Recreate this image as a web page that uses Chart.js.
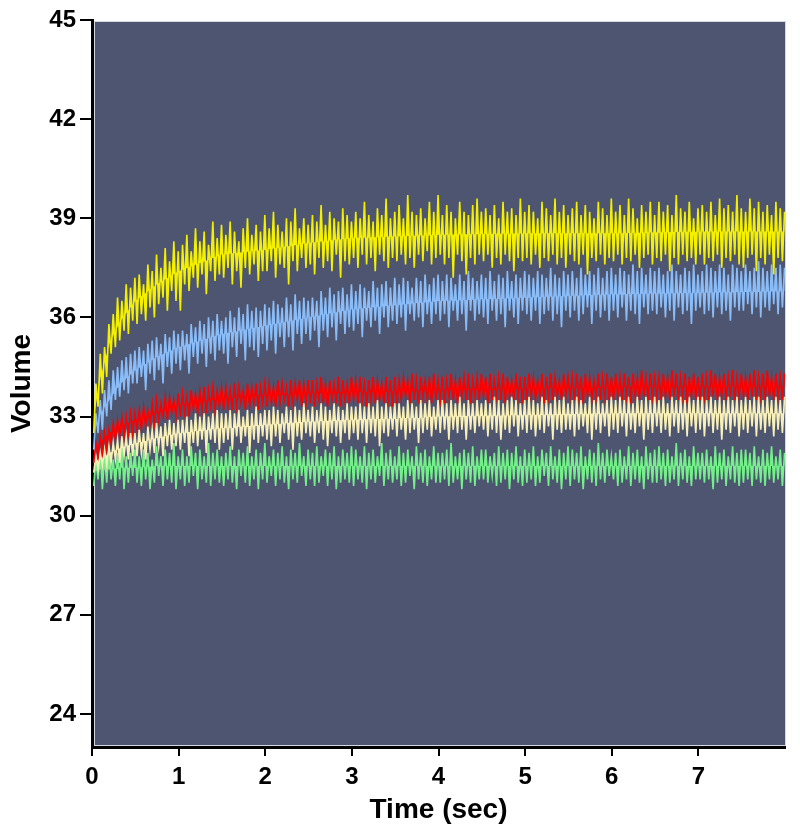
<!DOCTYPE html>
<html>
<head>
<meta charset="utf-8">
<script src="https://cdn.jsdelivr.net/npm/chart.js@4.4.1/dist/chart.umd.min.js"></script>
<style>
  html, body { margin: 0; padding: 0; background: #fff; }
  #wrap { width: 800px; height: 835px; }
</style>
</head>
<body>
<div id="wrap"><canvas id="volChart" width="800" height="835"></canvas></div>
<script>
// traces are sampled every sampleStep seconds starting at sampleStart
const sampleStart = 0.02;
const sampleStep = 0.025;

const xTicks = [0, 1, 2, 3, 4, 5, 6, 7];
const yTicks = [24, 27, 30, 33, 36, 39, 42, 45];

// rough mid line of each trace, the base the noise band is filled to
const midTimes = [0.02, 0.1, 0.2, 0.33, 0.5, 0.75, 1, 1.5, 2, 2.5, 3, 4, 5, 6, 7, 8];
const yellowMid = [33.0, 34.2, 35.2, 35.9, 36.5, 37.0, 37.4, 37.9, 38.05, 38.25, 38.4, 38.5, 38.55, 38.55, 38.6, 38.6];
const blueMid   = [32.5, 33.1, 33.5, 34.0, 34.4, 34.8, 35.1, 35.5, 35.75, 36.0, 36.25, 36.5, 36.6, 36.7, 36.75, 36.8];
const redMid    = [31.9, 32.25, 32.5, 32.7, 32.9, 33.1, 33.35, 33.55, 33.65, 33.7, 33.75, 33.8, 33.85, 33.9, 33.9, 33.9];
const creamMid  = [31.6, 31.75, 31.9, 32.05, 32.2, 32.35, 32.5, 32.65, 32.75, 32.85, 32.9, 33.0, 33.05, 33.1, 33.1, 33.1];
const greenMid  = [31.35, 31.4, 31.4, 31.45, 31.45, 31.5, 31.5, 31.5, 31.5, 31.5, 31.5, 31.5, 31.5, 31.5, 31.5, 31.5];

const yellowTrace = [
  32.5, 34.0, 33.3, 34.9, 33.7, 35.1, 34.2, 35.8, 34.9, 36.1, 35.1, 36.6, 35.3, 36.5, 35.6, 37.0, 35.5, 36.9, 35.9, 37.2,
  35.8, 37.3, 36.1, 37.0, 35.9, 37.6, 36.3, 37.4, 36.0, 37.9, 36.4, 37.5, 36.6, 38.1, 36.2, 37.7, 36.8, 38.3, 36.5, 38.0,
  36.2, 38.2, 37.0, 38.5, 36.8, 38.0, 37.2, 38.7, 36.9, 38.3, 37.3, 38.6, 36.7, 38.2, 37.4, 38.9, 37.1, 38.4, 37.3, 38.8,
  37.2, 38.5, 37.5, 38.9, 37.0, 38.6, 37.4, 38.3, 36.9, 38.7, 37.5, 39.0, 37.3, 38.5, 37.6, 38.8, 37.1, 38.6, 37.4, 39.1,
  37.4, 38.7, 37.7, 39.2, 37.2, 38.8, 37.6, 38.6, 37.5, 39.0, 37.0, 38.9, 37.7, 39.3, 37.4, 38.7, 37.8, 39.0, 37.5, 38.8,
  37.6, 39.1, 37.3, 38.9, 37.8, 39.4, 37.5, 38.8, 37.7, 39.2, 37.4, 39.0, 37.9, 38.9, 37.2, 39.3, 37.7, 39.1, 37.6, 38.9,
  37.8, 39.2, 37.5, 39.0, 37.9, 39.5, 37.6, 39.1, 37.8, 38.9, 37.4, 39.3, 37.9, 39.1, 37.7, 39.6, 37.5, 39.0, 37.8, 39.2,
  37.7, 39.4, 37.9, 39.0, 37.6, 39.7, 37.8, 39.2, 37.5, 39.1, 37.9, 39.3, 37.7, 39.0, 38.0, 39.5, 37.6, 39.2, 37.8, 39.7,
  37.9, 39.1, 37.6, 39.4, 37.8, 39.2, 37.2, 39.0, 37.9, 39.5, 37.7, 39.2, 37.3, 39.1, 37.8, 39.4, 37.6, 39.6, 37.9, 39.2,
  37.7, 39.3, 37.9, 39.1, 37.5, 39.4, 37.8, 39.0, 37.6, 39.5, 37.9, 39.2, 37.7, 39.3, 37.4, 39.1, 37.8, 39.6, 37.7, 39.2,
  37.8, 39.4, 37.6, 39.2, 37.9, 39.0, 37.5, 39.5, 37.8, 39.3, 37.7, 39.1, 37.9, 39.6, 37.6, 39.2, 37.8, 39.4, 37.5, 39.1,
  37.9, 39.3, 37.7, 39.5, 37.6, 39.1, 37.9, 39.4, 37.3, 39.2, 37.8, 39.0, 37.7, 39.5, 37.9, 39.3, 37.6, 39.1, 37.8, 39.6,
  37.7, 39.2, 37.9, 39.4, 37.6, 39.1, 37.8, 39.6, 37.7, 39.3, 37.9, 39.0, 37.5, 39.4, 37.8, 39.2, 37.9, 39.5, 37.6, 39.1,
  37.8, 39.5, 37.7, 39.2, 37.9, 39.4, 37.4, 39.1, 37.8, 39.7, 37.6, 39.3, 37.9, 39.2, 37.7, 39.5, 37.8, 39.0, 37.6, 39.3,
  37.9, 39.4, 37.6, 39.2, 37.8, 39.5, 37.7, 39.1, 37.9, 39.6, 37.5, 39.3, 37.8, 39.4, 37.7, 39.2, 37.9, 39.7, 37.6, 39.3,
  37.5, 39.2, 37.8, 39.6, 37.9, 39.3, 37.4, 39.5, 37.8, 39.2, 37.6, 39.4, 37.9, 39.1, 37.3, 39.5, 37.8, 39.3, 37.7, 39.2
];
const blueTrace = [
  32.0, 33.1, 32.5, 33.5, 32.6, 33.8, 33.0, 34.1, 33.2, 34.4, 33.5, 34.5, 33.6, 34.7, 33.8, 34.8, 33.7, 34.9, 34.0, 35.0,
  34.0, 35.1, 34.2, 35.0, 33.8, 35.2, 34.3, 35.3, 34.1, 35.4, 34.4, 35.2, 34.0, 35.5, 34.5, 35.4, 34.3, 35.6, 34.6, 35.5,
  34.4, 35.6, 34.7, 35.5, 34.3, 35.8, 34.8, 35.7, 34.6, 35.9, 34.9, 35.8, 34.5, 36.0, 34.9, 35.9, 34.7, 36.1, 35.0, 35.9,
  34.9, 36.0, 34.6, 36.2, 35.1, 36.0, 34.8, 36.3, 35.2, 36.1, 34.7, 36.4, 35.1, 36.2, 35.0, 36.3, 34.8, 36.2, 35.2, 36.4,
  35.0, 36.3, 35.3, 36.5, 34.9, 36.4, 35.4, 36.3, 35.1, 36.6, 35.4, 36.4, 35.0, 36.7, 35.5, 36.5, 35.2, 36.6, 35.5, 36.5,
  35.3, 36.6, 35.6, 36.5, 35.1, 36.8, 35.6, 36.6, 35.4, 36.9, 35.7, 36.7, 35.3, 36.8, 35.8, 36.9, 35.5, 36.7, 35.7, 37.0,
  35.6, 36.8, 35.8, 37.0, 35.4, 36.9, 35.9, 36.8, 35.7, 37.1, 35.9, 36.9, 35.5, 37.0, 36.0, 37.1, 35.7, 36.9, 35.9, 37.2,
  35.8, 37.0, 36.0, 37.2, 35.6, 37.1, 36.1, 36.9, 35.9, 37.2, 36.0, 37.1, 35.7, 37.3, 36.1, 37.0, 35.8, 37.2, 36.1, 37.3,
  35.9, 37.1, 36.1, 37.3, 35.7, 37.2, 36.2, 37.0, 35.9, 37.3, 36.1, 37.1, 35.6, 37.4, 36.2, 37.2, 35.9, 37.1, 36.1, 37.3,
  36.0, 37.2, 35.8, 37.4, 36.2, 37.1, 35.9, 37.3, 36.1, 37.2, 35.7, 37.4, 36.2, 37.1, 36.0, 37.3, 35.8, 37.2, 36.2, 37.4,
  36.1, 37.3, 35.9, 37.2, 36.2, 37.4, 35.8, 37.3, 36.1, 37.2, 36.2, 37.5, 35.9, 37.3, 36.1, 37.2, 35.7, 37.4, 36.2, 37.3,
  36.0, 37.4, 36.2, 37.2, 35.9, 37.5, 36.1, 37.3, 36.3, 37.4, 35.8, 37.3, 36.2, 37.5, 36.0, 37.2, 36.2, 37.4, 35.9, 37.5,
  36.2, 37.3, 36.0, 37.5, 36.3, 37.4, 35.9, 37.3, 36.2, 37.6, 36.1, 37.4, 35.8, 37.5, 36.3, 37.3, 36.1, 37.5, 36.2, 37.4,
  36.1, 37.5, 36.3, 37.3, 36.0, 37.4, 36.2, 37.6, 35.9, 37.4, 36.3, 37.3, 36.1, 37.5, 36.2, 37.4, 35.8, 37.6, 36.2, 37.3,
  36.3, 37.4, 36.1, 37.6, 36.2, 37.5, 36.0, 37.4, 36.3, 37.6, 36.1, 37.5, 36.2, 37.3, 35.9, 37.6, 36.3, 37.5, 36.2, 37.4,
  36.2, 37.6, 36.4, 37.4, 36.1, 37.5, 36.3, 37.7, 36.0, 37.5, 36.3, 37.4, 36.2, 37.6, 36.4, 37.5, 36.1, 37.6, 36.3, 37.5
];
const redTrace = [
  31.6, 32.2, 31.8, 32.4, 31.9, 32.5, 32.0, 32.6, 32.2, 32.8, 32.3, 32.9, 32.4, 33.0, 32.4, 33.0, 32.5, 33.1, 32.5, 33.1,
  32.6, 33.2, 32.6, 33.3, 32.7, 33.2, 32.8, 33.4, 32.8, 33.5, 32.9, 33.4, 33.0, 33.6, 32.9, 33.6, 33.1, 33.5, 33.0, 33.7,
  33.0, 33.7, 33.1, 33.6, 33.0, 33.8, 33.2, 33.7, 33.1, 33.8, 33.2, 33.9, 33.1, 33.8, 33.3, 33.9, 33.2, 33.8, 33.3, 33.9,
  33.2, 33.9, 33.3, 33.8, 33.2, 34.0, 33.3, 33.9, 33.4, 33.8, 33.2, 34.0, 33.3, 33.9, 33.4, 34.0, 33.2, 33.9, 33.4, 34.0,
  33.3, 34.0, 33.4, 33.9, 33.3, 34.1, 33.4, 34.0, 33.5, 33.9, 33.3, 34.1, 33.4, 34.0, 33.5, 34.1, 33.3, 34.0, 33.4, 34.1,
  33.4, 34.1, 33.3, 34.0, 33.5, 34.2, 33.4, 34.0, 33.3, 34.1, 33.5, 34.0, 33.4, 34.2, 33.3, 34.1, 33.5, 34.0, 33.4, 34.2,
  33.5, 34.1, 33.4, 34.2, 33.5, 34.0, 33.3, 34.1, 33.5, 34.2, 33.4, 34.1, 33.5, 34.0, 33.4, 34.2, 33.5, 34.1, 33.3, 34.2,
  33.4, 34.1, 33.5, 34.2, 33.6, 34.1, 33.4, 34.3, 33.5, 34.1, 33.4, 34.2, 33.6, 34.1, 33.5, 34.2, 33.4, 34.3, 33.5, 34.1,
  33.5, 34.2, 33.4, 34.1, 33.6, 34.3, 33.5, 34.1, 33.4, 34.2, 33.6, 34.2, 33.5, 34.3, 33.4, 34.1, 33.6, 34.2, 33.5, 34.3,
  33.6, 34.2, 33.4, 34.3, 33.5, 34.1, 33.6, 34.2, 33.5, 34.3, 33.4, 34.2, 33.6, 34.1, 33.5, 34.3, 33.6, 34.2, 33.4, 34.2,
  33.5, 34.3, 33.6, 34.2, 33.5, 34.1, 33.6, 34.3, 33.4, 34.2, 33.6, 34.3, 33.5, 34.2, 33.6, 34.1, 33.5, 34.3, 33.6, 34.2,
  33.6, 34.2, 33.5, 34.3, 33.6, 34.2, 33.4, 34.3, 33.6, 34.2, 33.5, 34.1, 33.6, 34.3, 33.5, 34.2, 33.6, 34.3, 33.5, 34.2,
  33.5, 34.3, 33.6, 34.2, 33.5, 34.3, 33.6, 34.2, 33.4, 34.3, 33.6, 34.2, 33.5, 34.4, 33.6, 34.2, 33.5, 34.3, 33.6, 34.2,
  33.6, 34.2, 33.5, 34.3, 33.6, 34.2, 33.5, 34.4, 33.6, 34.3, 33.5, 34.2, 33.6, 34.3, 33.4, 34.2, 33.6, 34.3, 33.5, 34.2,
  33.5, 34.3, 33.6, 34.2, 33.5, 34.4, 33.6, 34.3, 33.5, 34.2, 33.6, 34.3, 33.5, 34.2, 33.6, 34.4, 33.5, 34.2, 33.6, 34.3,
  33.6, 34.2, 33.5, 34.3, 33.6, 34.4, 33.5, 34.2, 33.6, 34.3, 33.5, 34.4, 33.6, 34.2, 33.5, 34.3, 33.6, 34.2, 33.5, 34.3
];
const creamTrace = [
  31.3, 31.8, 31.4, 31.9, 31.5, 32.0, 31.5, 32.1, 31.6, 32.2, 31.7, 32.3, 31.6, 32.4, 31.8, 32.4, 31.7, 32.5, 31.8, 32.5,
  31.8, 32.6, 31.9, 32.5, 31.7, 32.7, 32.0, 32.6, 31.9, 32.8, 32.1, 32.7, 31.8, 32.8, 32.1, 32.9, 32.0, 32.8, 32.1, 32.9,
  32.0, 32.9, 32.2, 33.0, 31.8, 32.9, 32.2, 33.1, 32.1, 33.0, 32.3, 33.1, 31.9, 33.0, 32.3, 33.1, 32.2, 33.2, 32.0, 33.1,
  32.2, 33.1, 32.3, 33.2, 32.0, 33.1, 32.4, 33.2, 32.2, 33.0, 32.4, 33.2, 31.9, 33.1, 32.3, 33.3, 32.2, 33.1, 32.4, 33.2,
  32.3, 33.2, 32.1, 33.3, 32.4, 33.2, 32.2, 33.1, 32.5, 33.3, 32.3, 33.2, 32.0, 33.3, 32.4, 33.2, 32.3, 33.4, 32.5, 33.2,
  32.4, 33.3, 32.2, 33.2, 32.5, 33.4, 32.3, 33.3, 32.1, 33.2, 32.5, 33.4, 32.4, 33.3, 32.2, 33.2, 32.5, 33.4, 32.3, 33.3,
  32.5, 33.3, 32.3, 33.4, 32.5, 33.3, 32.2, 33.4, 32.5, 33.3, 32.4, 33.5, 32.1, 33.3, 32.5, 33.4, 32.4, 33.3, 32.6, 33.4,
  32.4, 33.4, 32.6, 33.3, 32.3, 33.5, 32.5, 33.4, 32.6, 33.3, 32.2, 33.5, 32.5, 33.4, 32.6, 33.5, 32.4, 33.3, 32.6, 33.5,
  32.5, 33.5, 32.6, 33.4, 32.3, 33.5, 32.6, 33.4, 32.5, 33.6, 32.6, 33.4, 32.3, 33.5, 32.6, 33.4, 32.5, 33.5, 32.7, 33.4,
  32.6, 33.5, 32.4, 33.4, 32.6, 33.6, 32.5, 33.5, 32.3, 33.4, 32.6, 33.5, 32.5, 33.6, 32.7, 33.5, 32.4, 33.4, 32.6, 33.5,
  32.5, 33.6, 32.6, 33.5, 32.4, 33.4, 32.6, 33.6, 32.5, 33.5, 32.7, 33.4, 32.3, 33.6, 32.6, 33.5, 32.5, 33.6, 32.6, 33.4,
  32.6, 33.5, 32.4, 33.6, 32.6, 33.5, 32.7, 33.4, 32.5, 33.6, 32.3, 33.5, 32.6, 33.6, 32.5, 33.4, 32.7, 33.5, 32.4, 33.6,
  32.6, 33.5, 32.5, 33.6, 32.7, 33.5, 32.4, 33.6, 32.6, 33.4, 32.5, 33.6, 32.7, 33.5, 32.3, 33.6, 32.6, 33.5, 32.5, 33.6,
  32.7, 33.5, 32.5, 33.6, 32.6, 33.4, 32.4, 33.6, 32.7, 33.5, 32.5, 33.6, 32.6, 33.5, 32.4, 33.6, 32.7, 33.5, 32.5, 33.6,
  32.6, 33.6, 32.4, 33.5, 32.7, 33.6, 32.5, 33.5, 32.6, 33.6, 32.3, 33.5, 32.6, 33.6, 32.5, 33.5, 32.7, 33.6, 32.4, 33.5,
  32.6, 33.6, 32.5, 33.5, 32.7, 33.6, 32.4, 33.6, 32.6, 33.5, 32.5, 33.6, 32.7, 33.5, 32.4, 33.6, 32.6, 33.5, 32.5, 33.6
];
const greenTrace = [
  30.9, 31.7, 31.1, 31.9, 30.8, 31.8, 31.0, 32.0, 31.1, 31.7, 30.9, 31.9, 31.1, 32.1, 30.8, 31.8, 31.0, 31.9, 31.2, 32.0,
  31.0, 31.8, 30.9, 32.0, 31.1, 31.9, 30.8, 31.7, 31.0, 32.1, 31.2, 31.8, 30.9, 32.0, 31.1, 31.9, 31.0, 32.2, 30.8, 31.8,
  31.1, 32.0, 30.9, 31.8, 31.0, 32.1, 31.2, 31.9, 30.8, 32.0, 31.1, 31.8, 31.0, 32.2, 30.9, 31.9, 31.1, 32.0, 31.0, 31.8,
  30.9, 31.9, 31.1, 32.1, 31.0, 31.8, 30.8, 32.0, 31.2, 31.9, 31.0, 32.1, 30.9, 31.8, 31.1, 32.0, 30.8, 31.9, 31.1, 32.2,
  31.0, 31.8, 31.2, 32.0, 30.9, 31.9, 31.1, 32.1, 31.0, 31.8, 30.8, 32.0, 31.1, 31.9, 31.0, 32.2, 31.2, 31.8, 30.9, 32.0,
  31.1, 31.9, 30.9, 32.1, 31.0, 31.8, 31.2, 32.0, 30.9, 31.9, 31.1, 32.1, 30.8, 31.8, 31.0, 32.0, 31.1, 31.9, 31.0, 32.1,
  30.9, 32.0, 31.1, 31.8, 31.0, 32.1, 30.8, 31.9, 31.1, 32.0, 31.0, 31.8, 31.2, 32.2, 30.9, 31.9, 31.1, 32.0, 31.0, 31.8,
  31.1, 32.1, 30.9, 31.9, 31.0, 32.0, 31.2, 31.8, 30.8, 32.1, 31.1, 31.9, 31.0, 32.0, 30.9, 31.8, 31.1, 32.1, 31.0, 31.9,
  31.0, 31.9, 31.1, 32.0, 30.9, 32.2, 31.0, 31.8, 31.1, 31.9, 30.8, 32.0, 31.1, 31.9, 31.0, 32.1, 30.9, 31.8, 31.1, 32.0,
  31.1, 32.0, 31.0, 31.8, 31.2, 31.9, 30.9, 32.1, 31.0, 31.9, 31.1, 32.0, 30.8, 31.9, 31.1, 32.1, 31.0, 31.8, 30.9, 32.0,
  31.0, 31.9, 31.1, 32.1, 30.9, 31.8, 31.0, 32.0, 31.2, 31.9, 30.9, 32.1, 31.1, 31.8, 31.0, 32.0, 30.8, 31.9, 31.1, 32.1,
  30.9, 32.0, 31.1, 31.9, 31.0, 32.1, 30.8, 31.8, 31.1, 32.0, 31.0, 31.9, 30.9, 32.2, 31.1, 31.9, 31.0, 32.0, 31.2, 31.8,
  31.1, 31.9, 30.9, 32.0, 31.0, 31.8, 31.1, 32.1, 30.9, 31.9, 31.1, 32.0, 31.0, 31.8, 30.8, 32.1, 31.1, 31.9, 31.0, 32.0,
  31.0, 32.1, 31.1, 31.9, 30.9, 32.0, 31.0, 31.8, 31.1, 32.2, 30.9, 31.9, 31.1, 32.0, 31.0, 31.8, 30.9, 32.1, 31.1, 31.9,
  31.1, 31.9, 31.0, 32.0, 31.1, 31.8, 30.8, 32.1, 31.0, 31.9, 31.1, 32.0, 30.9, 31.8, 31.1, 32.1, 31.0, 31.9, 30.9, 32.0,
  31.0, 32.0, 31.1, 31.9, 30.9, 32.1, 31.1, 31.8, 31.0, 32.0, 30.9, 31.9, 31.1, 32.1, 31.0, 31.8, 31.1, 32.0, 30.9, 31.9
];

const traces = [
  { name: 'Yellow', values: yellowTrace, mid: yellowMid, color: '#f4f000' },
  { name: 'Blue',   values: blueTrace,   mid: blueMid,   color: '#8abcf8' },
  { name: 'Red',    values: redTrace,    mid: redMid,    color: '#fa0000' },
  { name: 'Cream',  values: creamTrace,  mid: creamMid,  color: '#f8f0b8' },
  { name: 'Green',  values: greenTrace,  mid: greenMid,  color: '#74f08a' }
];

function samplePoints(values) {
  return values.map((v, i) => ({ x: +(sampleStart + i * sampleStep).toFixed(3), y: v }));
}
function midPoints(values) {
  return values.map((v, i) => ({ x: midTimes[i], y: v }));
}

const datasets = [];
traces.forEach(t => {
  datasets.push({
    label: t.name,
    data: samplePoints(t.values),
    borderColor: t.color,
    backgroundColor: t.color,
    borderWidth: 1.6,
    pointRadius: 0,
    tension: 0,
    fill: '+1'
  });
  datasets.push({
    label: t.name + ' mid',
    data: midPoints(t.mid),
    borderColor: 'transparent',
    borderWidth: 0,
    pointRadius: 0,
    fill: false
  });
});

const plotBg = {
  id: 'plotBg',
  beforeDatasetsDraw(chart) {
    const { ctx, chartArea: a } = chart;
    ctx.save();
    ctx.fillStyle = '#4d5570';
    ctx.fillRect(a.left + 3, a.top + 2, a.right - a.left - 3, a.bottom - a.top - 4);
    ctx.strokeStyle = '#d4d8e2';
    ctx.lineWidth = 1;
    ctx.strokeRect(a.left + 2.5, a.top + 1.5, a.right - a.left - 2, a.bottom - a.top - 3);
    ctx.restore();
  }
};

const tickFont = { family: 'Liberation Sans, Arial, sans-serif', size: 24, weight: 'bold' };
const titleFont = { family: 'Liberation Sans, Arial, sans-serif', size: 28, weight: 'bold' };

new Chart(document.getElementById('volChart').getContext('2d'), {
  type: 'line',
  data: { datasets },
  plugins: [plotBg],
  options: {
    responsive: false,
    animation: false,
    events: [],
    layout: { padding: { top: 20, right: 15, left: 0, bottom: 0 } },
    plugins: { legend: { display: false }, tooltip: { enabled: false } },
    scales: {
      x: {
        type: 'linear', min: 0, max: 8,
        afterBuildTicks: s => { s.ticks = xTicks.map(v => ({ value: v })); },
        afterFit: s => { s.height = 88; },
        border: { display: true, color: '#000', width: 3 },
        grid: { drawOnChartArea: false, drawTicks: true, tickLength: 9, color: '#000', lineWidth: 2 },
        ticks: { color: '#000', font: tickFont, padding: 7, maxRotation: 0 },
        title: { display: true, text: 'Time (sec)', color: '#000', font: titleFont,
                 padding: { top: 0, bottom: 8 } }
      },
      y: {
        min: 23, max: 45,
        afterBuildTicks: s => { s.ticks = yTicks.map(v => ({ value: v })); },
        afterFit: s => { s.width = 92; },
        border: { display: true, color: '#000', width: 3 },
        grid: { drawOnChartArea: false, drawTicks: true, tickLength: 12, color: '#000', lineWidth: 2 },
        ticks: { color: '#000', font: tickFont, padding: 4 },
        title: { display: true, text: 'Volume', color: '#000', font: titleFont,
                 padding: { top: 5, bottom: 0 } }
      }
    }
  }
});
</script>
</body>
</html>
